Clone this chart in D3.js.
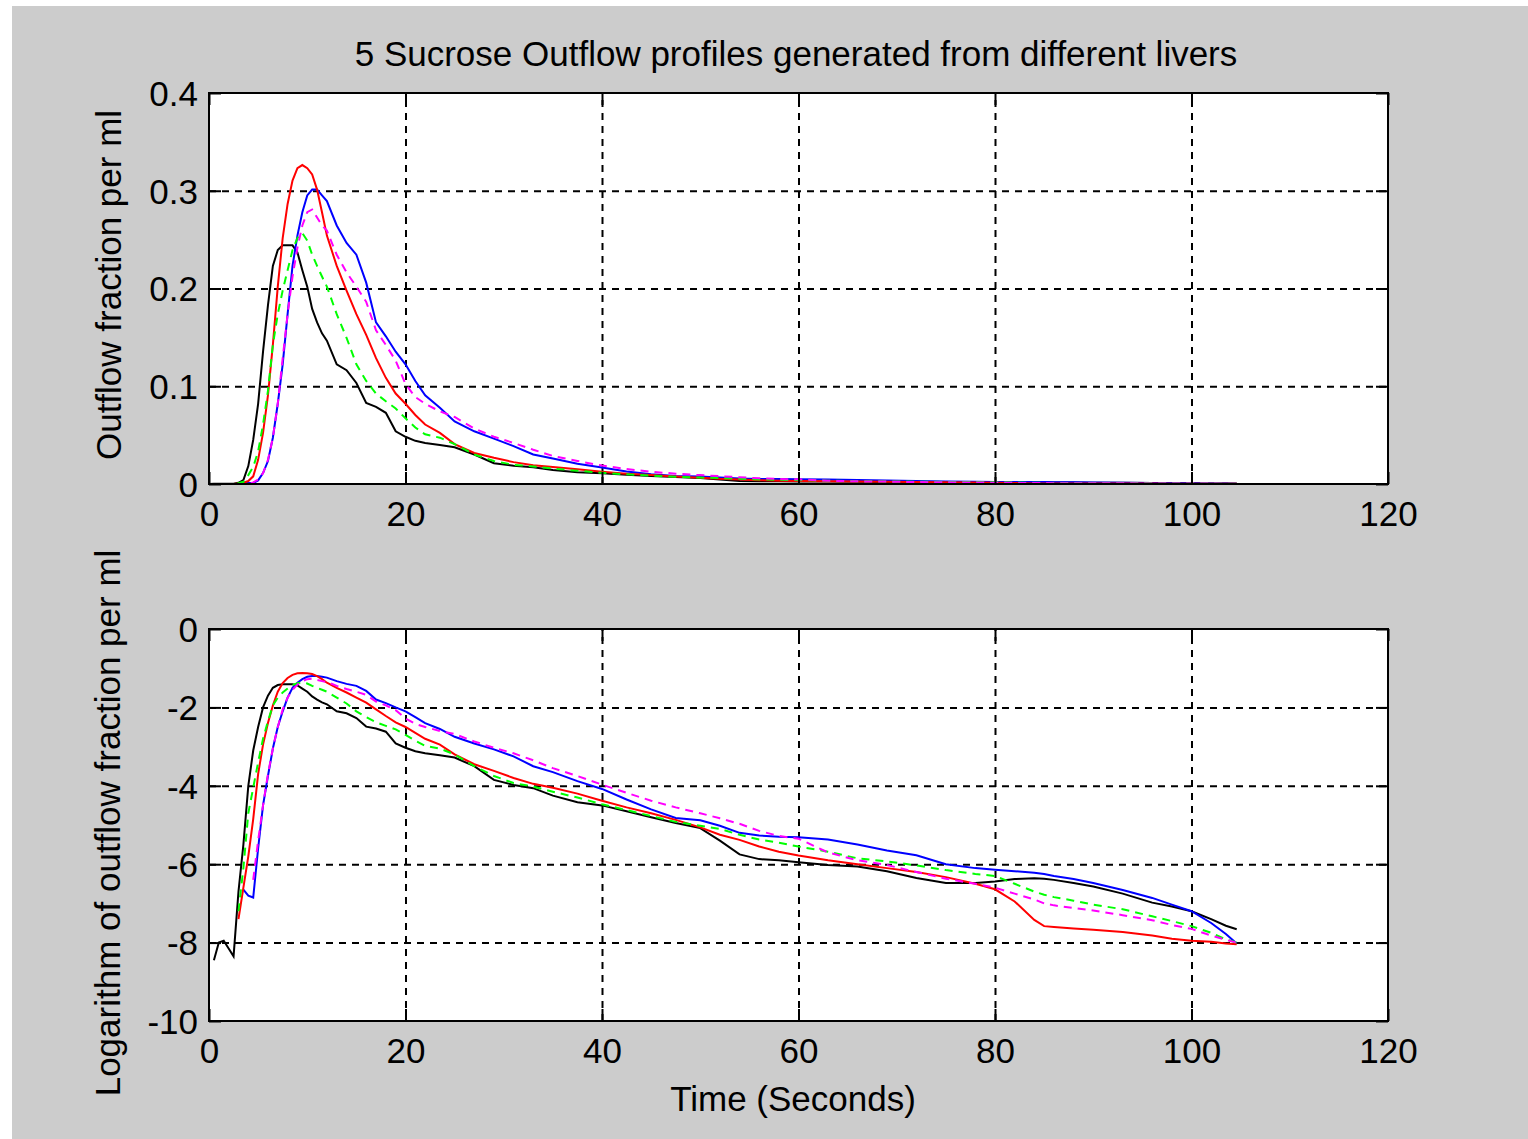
<!DOCTYPE html>
<html lang="en">
<head>
    <meta charset="UTF-8">
    <title>Sucrose outflow profiles</title>
    <script src="https://cdn.jsdelivr.net/npm/d3@7/dist/d3.min.js"></script>
    <style>
        body { margin: 0; background: #fff; }
        text { font-family: "Liberation Sans", Arial, sans-serif; fill: #000; }
    </style>
</head>
<body>
<script>
    // time in seconds, shared by all five livers
    const time = [0, 0.5, 1, 1.5, 2, 2.5, 3, 3.5, 4, 4.5,
        5, 5.5, 6, 6.5, 7, 7.5, 8, 8.5, 9, 9.5,
        10, 10.5, 11, 11.5, 12, 13, 14, 15, 16, 17,
        18, 19, 20, 21, 22, 23.5, 25, 27, 29, 31,
        33, 35, 37.5, 40, 42.5, 45, 47.5, 50, 52, 54,
        56, 58, 60, 63, 66, 69, 72, 75, 78, 80,
        82, 84, 85, 86, 88, 90, 93, 96, 98, 100,
        102, 103.5, 104.6];

    // natural log of outflow fraction per ml (null = zero outflow, log undefined)
    const logBlack = [null, -8.45, -8.0, -7.95, -8.15, -8.35, -6.7, -5.5, -4.0, -3.1,
        -2.5, -2.0, -1.7, -1.5, -1.43, -1.41, -1.41, -1.41, -1.44, -1.52,
        -1.6, -1.72, -1.8, -1.87, -1.92, -2.1, -2.15, -2.27, -2.49, -2.54,
        -2.62, -2.92, -3.03, -3.12, -3.17, -3.22, -3.28, -3.5, -3.85, -3.98,
        -4.06, -4.25, -4.42, -4.5, -4.65, -4.8, -4.95, -5.08, -5.4, -5.75,
        -5.87, -5.9, -5.95, -6.02, -6.06, -6.18, -6.35, -6.48, -6.48, -6.44,
        -6.38, -6.36, -6.37, -6.4, -6.48, -6.57, -6.75, -6.98, -7.08, -7.2,
        -7.4, -7.57, -7.66];
    const logRed = [null, null, null, null, null, null, -7.4, -6.6, -5.8, -4.85,
        -3.7, -2.95, -2.4, -1.95, -1.6, -1.38, -1.25, -1.17, -1.13, -1.12,
        -1.13, -1.15, -1.2, -1.28, -1.37, -1.5, -1.62, -1.75, -1.88, -2.05,
        -2.22, -2.38, -2.5, -2.65, -2.8, -2.95, -3.2, -3.45, -3.62, -3.8,
        -3.95, -4.05, -4.2, -4.38, -4.55, -4.7, -4.87, -5.06, -5.25, -5.38,
        -5.55, -5.68, -5.78, -5.9, -6.0, -6.1, -6.2, -6.33, -6.5, -6.64,
        -6.95, -7.42, -7.58, -7.6, -7.64, -7.67, -7.73, -7.82, -7.9, -7.95,
        -7.98, -8.02, -8.04];
    const logBlue = [null, null, null, null, null, null, null, -6.65, -6.8, -6.85,
        -5.6, -4.5, -3.75, -3.05, -2.5, -2.1, -1.75, -1.5, -1.37, -1.28,
        -1.22, -1.2, -1.2, -1.22, -1.24, -1.33, -1.4, -1.45, -1.58, -1.8,
        -1.89, -2.0, -2.1, -2.25, -2.4, -2.55, -2.75, -2.92, -3.07, -3.25,
        -3.5, -3.65, -3.88, -4.08, -4.35, -4.6, -4.82, -4.88, -5.02, -5.2,
        -5.27, -5.3, -5.31, -5.37, -5.5, -5.65, -5.77, -6.0, -6.1, -6.14,
        -6.18, -6.22, -6.25, -6.3, -6.38, -6.48, -6.66, -6.86, -7.03, -7.2,
        -7.5, -7.78, -8.02];
    const logGreen = [null, null, null, null, null, null, -7.2, -6.1, -4.7, -4.05,
        -3.4, -2.8, -2.35, -1.95, -1.75, -1.62, -1.52, -1.43, -1.38, -1.36,
        -1.39, -1.45, -1.5, -1.55, -1.6, -1.75, -1.9, -2.1, -2.25, -2.38,
        -2.47, -2.56, -2.7, -2.85, -2.98, -3.05, -3.2, -3.5, -3.75, -3.93,
        -4.02, -4.15, -4.3, -4.47, -4.62, -4.77, -4.92, -5.02, -5.1, -5.25,
        -5.37, -5.45, -5.55, -5.68, -5.85, -5.93, -6.03, -6.15, -6.25, -6.3,
        -6.5, -6.7, -6.78, -6.84, -6.93, -7.03, -7.15, -7.33, -7.45, -7.58,
        -7.75, -7.92, -8.0];
    const logMagenta = [null, null, null, null, null, null, null, null, null, -6.4,
        -5.4, -4.5, -3.7, -3.05, -2.5, -2.05, -1.75, -1.55, -1.42, -1.33,
        -1.28, -1.27, -1.3, -1.33, -1.35, -1.45, -1.53, -1.6, -1.68, -1.85,
        -1.95, -2.07, -2.28, -2.42, -2.5, -2.6, -2.68, -2.87, -3.03, -3.17,
        -3.35, -3.55, -3.75, -3.97, -4.18, -4.38, -4.55, -4.7, -4.83, -4.97,
        -5.15, -5.28, -5.35, -5.7, -5.9, -6.02, -6.2, -6.37, -6.5, -6.6,
        -6.75, -6.9, -7.0, -7.05, -7.12, -7.18, -7.3, -7.43, -7.55, -7.65,
        -7.82, -7.93, -8.0];

    const series = [
        {values: logBlack, color: '#000000', dash: null},
        {values: logBlue, color: '#0000ff', dash: null},
        {values: logRed, color: '#ff0000', dash: null},
        {values: logGreen, color: '#00ff00', dash: '8,6'},
        {values: logMagenta, color: '#ff00ff', dash: '8,6'}
    ];

    const xTicks = [0, 20, 40, 60, 80, 100, 120];
    const yTicksTop = [0, 0.1, 0.2, 0.3, 0.4];
    const yTicksLog = [-10, -8, -6, -4, -2, 0];

    const width = 1528;
    const height = 1139;
    const fontSize = 35;

    const svg = d3.select('body')
        .append('svg')
        .attr('width', width)
        .attr('height', height);

    // grey figure background
    svg.append('rect')
        .attr('x', 12).attr('y', 6)
        .attr('width', width - 12).attr('height', height - 6)
        .attr('fill', '#cccccc');

    const x = d3.scaleLinear().domain([0, 120]).range([209, 1388]);
    const yTop = d3.scaleLinear().domain([0, 0.4]).range([484, 93]);
    const yLog = d3.scaleLinear().domain([-10, 0]).range([1021, 629]);

    function panel(y, yTicks, yFmt, yOf, defined) {
        const [bottom, top] = y.range();
        const [left, right] = x.range();
        const g = svg.append('g');

        g.append('rect')
            .attr('x', left).attr('y', top)
            .attr('width', right - left).attr('height', bottom - top)
            .attr('fill', '#fff');

        // dashed grid
        const gx = g.append('g')
            .attr('transform', `translate(0,${bottom})`)
            .call(d3.axisBottom(x).tickValues(xTicks.slice(1, -1)).tickSize(-(bottom - top)).tickFormat(''));
        const gy = g.append('g')
            .attr('transform', `translate(${left},0)`)
            .call(d3.axisLeft(y).tickValues(yTicks.slice(1, -1)).tickSize(-(right - left)).tickFormat(''));
        [gx, gy].forEach(a => {
            a.select('.domain').remove();
            a.selectAll('line')
                .attr('stroke', '#000')
                .attr('stroke-width', 2)
                .attr('stroke-dasharray', '7,6');
        });

        // data
        const line = d3.line()
            .defined((d, i) => defined(d))
            .x((d, i) => x(time[i]))
            .y(d => y(yOf(d)));
        series.forEach(s => {
            g.append('path')
                .attr('d', line(s.values))
                .attr('fill', 'none')
                .attr('stroke', s.color)
                .attr('stroke-width', 2)
                .attr('stroke-dasharray', s.dash);
        });

        // inward ticks on four sides
        const tick = 12;
        const axB = g.append('g').attr('transform', `translate(0,${bottom})`)
            .call(d3.axisBottom(x).tickValues(xTicks).tickSizeInner(-tick).tickSizeOuter(0).tickFormat(d => String(d)));
        axB.selectAll('text').attr('y', 42).attr('dy', null);
        const axL = g.append('g').attr('transform', `translate(${left},0)`)
            .call(d3.axisLeft(y).tickValues(yTicks).tickSizeInner(-tick).tickSizeOuter(0).tickFormat(yFmt));
        axL.selectAll('text').attr('x', -11).attr('dy', '0.35em');
        const axT = g.append('g').attr('transform', `translate(0,${top})`)
            .call(d3.axisTop(x).tickValues(xTicks).tickSizeInner(-tick).tickSizeOuter(0).tickFormat(''));
        const axR = g.append('g').attr('transform', `translate(${right},0)`)
            .call(d3.axisRight(y).tickValues(yTicks).tickSizeInner(-tick).tickSizeOuter(0).tickFormat(''));
        [axB, axL, axT, axR].forEach(a => {
            a.attr('font-size', fontSize).attr('font-family', null);
            a.select('.domain').remove();
            a.selectAll('line').attr('stroke', '#000').attr('stroke-width', 2);
            a.selectAll('text').attr('fill', '#000');
        });

        // frame
        g.append('rect')
            .attr('x', left).attr('y', top)
            .attr('width', right - left).attr('height', bottom - top)
            .attr('fill', 'none')
            .attr('stroke', '#000')
            .attr('stroke-width', 2);
    }

    // top: outflow fraction (exp of the log values, zero where log is undefined)
    panel(yTop, yTicksTop, d => d === 0 ? '0' : d3.format('.1f')(d),
        d => d === null ? 0 : Math.exp(d), d => true);
    // bottom: logarithm
    panel(yLog, yTicksLog, d => String(d), d => d, d => d !== null);

    svg.append('text')
        .attr('x', 796).attr('y', 66)
        .attr('text-anchor', 'middle')
        .attr('font-size', fontSize)
        .text('5 Sucrose Outflow profiles generated from different livers');

    svg.append('text')
        .attr('transform', 'translate(121,285) rotate(-90)')
        .attr('text-anchor', 'middle')
        .attr('font-size', fontSize)
        .text('Outflow fraction per ml');

    svg.append('text')
        .attr('transform', 'translate(120,823) rotate(-90)')
        .attr('text-anchor', 'middle')
        .attr('font-size', fontSize)
        .text('Logarithm of outflow fraction per ml');

    svg.append('text')
        .attr('x', 793).attr('y', 1111)
        .attr('text-anchor', 'middle')
        .attr('font-size', fontSize)
        .text('Time (Seconds)');
</script>
</body>
</html>
